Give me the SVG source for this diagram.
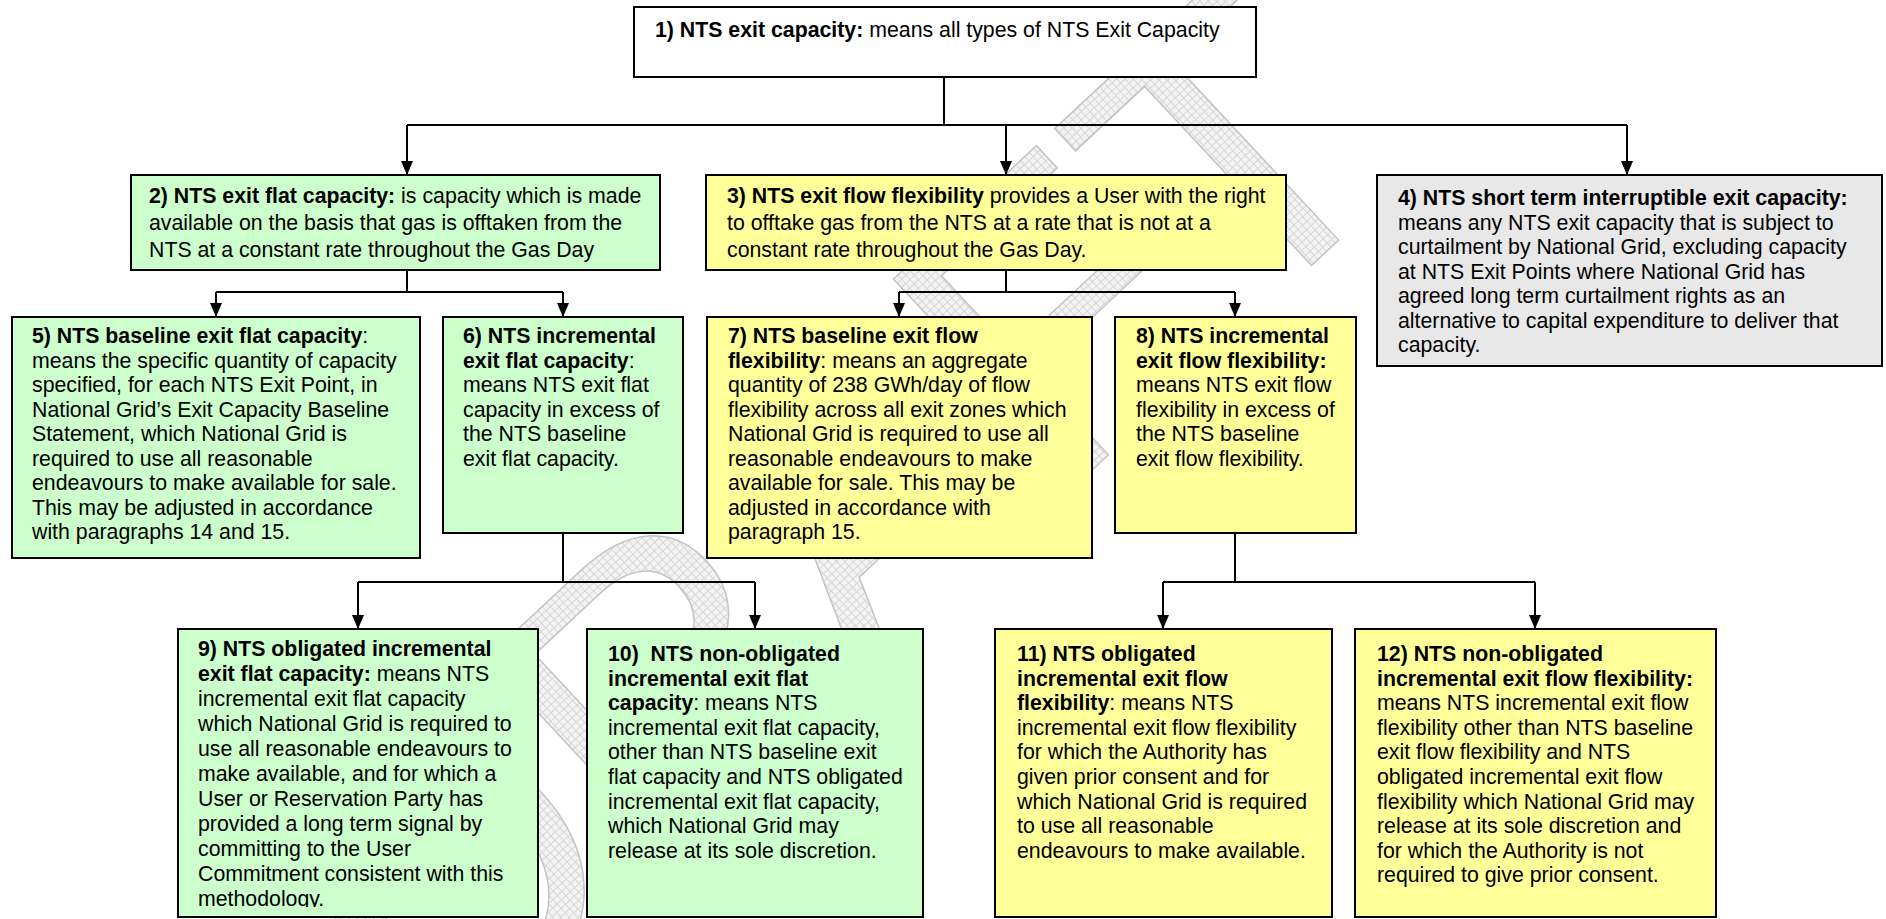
<svg xmlns="http://www.w3.org/2000/svg" width="1886" height="919" viewBox="0 0 1886 919">
<style>
text{font-family:"Liberation Sans",Arial,sans-serif;font-size:21.3px;fill:#000}
.b{font-weight:bold}
.box{stroke:#000;stroke-width:2}
.g{fill:#ccffcc}.y{fill:#ffff99}.gr{fill:#e8e8e8}.w{fill:#fff}
.c{fill:none;stroke:#000;stroke-width:2}
.wm{font-size:400px;fill:url(#wmp);stroke:#c4c4c4;stroke-width:1.5}
</style>
<defs>
<marker id="ah" markerWidth="14" markerHeight="14" refX="14" refY="6" orient="auto" markerUnits="userSpaceOnUse">
<path d="M0,0 L14,6 L0,12 z" fill="#000"/>
</marker>
<pattern id="wmp" width="6" height="6" patternUnits="userSpaceOnUse">
<rect width="6" height="6" fill="#f3f3f3"/>
<path d="M0,0.5 H6 M0.5,0 V6" stroke="#d6d6d6" stroke-width="1"/>
</pattern>
<clipPath id="clip9"><rect x="178" y="629" width="360" height="278"/></clipPath>
</defs>
<rect width="1886" height="919" fill="#fff"/>
<g id="watermark"><text class="wm" text-anchor="middle" transform="translate(927,624) rotate(-43)">DRAFT</text></g>

<g id="connectors">
<path class="c" d="M944,77 V125 M407,125 H1627 M407,270 V292 M216,292 H563 M1006,270 V292 M899,292 H1235 M563,533 V582 M358,582 H755 M1235,533 V582 M1163,582 H1535"/>
<path class="c" marker-end="url(#ah)" d="M407,125 V175"/>
<path class="c" marker-end="url(#ah)" d="M1006,125 V175"/>
<path class="c" marker-end="url(#ah)" d="M1627,125 V175"/>
<path class="c" marker-end="url(#ah)" d="M216,292 V317"/>
<path class="c" marker-end="url(#ah)" d="M563,292 V317"/>
<path class="c" marker-end="url(#ah)" d="M899,292 V317"/>
<path class="c" marker-end="url(#ah)" d="M1235,292 V317"/>
<path class="c" marker-end="url(#ah)" d="M358,582 V629"/>
<path class="c" marker-end="url(#ah)" d="M755,582 V629"/>
<path class="c" marker-end="url(#ah)" d="M1163,582 V629"/>
<path class="c" marker-end="url(#ah)" d="M1535,582 V629"/>
</g>

<g id="node1">
<rect class="box w" x="634" y="7" width="622" height="70"/>
<text x="655" y="37"><tspan class="b">1) NTS exit capacity:</tspan> means all types of NTS Exit Capacity</text>
</g>

<g id="node2">
<rect class="box g" x="131" y="175" width="529" height="95"/>
<text x="149" y="203"><tspan class="b">2) NTS exit flat capacity:</tspan> is capacity which is made</text>
<text x="149" y="230">available on the basis that gas is offtaken from the</text>
<text x="149" y="257">NTS at a constant rate throughout the Gas Day</text>
</g>

<g id="node3">
<rect class="box y" x="706" y="175" width="580" height="95"/>
<text x="727" y="203"><tspan class="b">3) NTS exit flow flexibility</tspan> provides a User with the right</text>
<text x="727" y="230">to offtake gas from the NTS at a rate that is not at a</text>
<text x="727" y="257">constant rate throughout the Gas Day.</text>
</g>

<g id="node4">
<rect class="box gr" x="1377" y="175" width="505" height="191"/>
<text x="1398" y="205" class="b">4) NTS short term interruptible exit capacity:</text>
<text x="1398" y="229.5">means any NTS exit capacity that is subject to</text>
<text x="1398" y="254">curtailment by National Grid, excluding capacity</text>
<text x="1398" y="278.5">at NTS Exit Points where National Grid has</text>
<text x="1398" y="303">agreed long term curtailment rights as an</text>
<text x="1398" y="327.5">alternative to capital expenditure to deliver that</text>
<text x="1398" y="352">capacity.</text>
</g>

<g id="node5">
<rect class="box g" x="12" y="317" width="408" height="241"/>
<text x="32" y="343"><tspan class="b">5) NTS baseline exit flat capacity</tspan>:</text>
<text x="32" y="367.5">means the specific quantity of capacity</text>
<text x="32" y="392">specified, for each NTS Exit Point, in</text>
<text x="32" y="416.5">National Grid’s Exit Capacity Baseline</text>
<text x="32" y="441">Statement, which National Grid is</text>
<text x="32" y="465.5">required to use all reasonable</text>
<text x="32" y="490">endeavours to make available for sale.</text>
<text x="32" y="514.5">This may be adjusted in accordance</text>
<text x="32" y="539">with paragraphs 14 and 15.</text>
</g>

<g id="node6">
<rect class="box g" x="443" y="317" width="240" height="216"/>
<text x="463" y="343" class="b">6) NTS incremental</text>
<text x="463" y="367.5"><tspan class="b">exit flat capacity</tspan>:</text>
<text x="463" y="392">means NTS exit flat</text>
<text x="463" y="416.5">capacity in excess of</text>
<text x="463" y="441">the NTS baseline</text>
<text x="463" y="465.5">exit flat capacity.</text>
</g>

<g id="node7">
<rect class="box y" x="707" y="317" width="385" height="241"/>
<text x="728" y="343" class="b">7) NTS baseline exit flow</text>
<text x="728" y="367.5"><tspan class="b">flexibility</tspan>: means an aggregate</text>
<text x="728" y="392">quantity of 238 GWh/day of flow</text>
<text x="728" y="416.5">flexibility across all exit zones which</text>
<text x="728" y="441">National Grid is required to use all</text>
<text x="728" y="465.5">reasonable endeavours to make</text>
<text x="728" y="490">available for sale. This may be</text>
<text x="728" y="514.5">adjusted in accordance with</text>
<text x="728" y="539">paragraph 15.</text>
</g>

<g id="node8">
<rect class="box y" x="1115" y="317" width="241" height="216"/>
<text x="1136" y="343" class="b">8) NTS incremental</text>
<text x="1136" y="367.5" class="b">exit flow flexibility:</text>
<text x="1136" y="392">means NTS exit flow</text>
<text x="1136" y="416.5">flexibility in excess of</text>
<text x="1136" y="441">the NTS baseline</text>
<text x="1136" y="465.5">exit flow flexibility.</text>
</g>

<g id="node9">
<rect class="box g" x="178" y="629" width="360" height="288"/>
<g clip-path="url(#clip9)">
<text x="198" y="656" class="b">9) NTS obligated incremental</text>
<text x="198" y="681"><tspan class="b">exit flat capacity:</tspan> means NTS</text>
<text x="198" y="706">incremental exit flat capacity</text>
<text x="198" y="731">which National Grid is required to</text>
<text x="198" y="756">use all reasonable endeavours to</text>
<text x="198" y="781">make available, and for which a</text>
<text x="198" y="806">User or Reservation Party has</text>
<text x="198" y="831">provided a long term signal by</text>
<text x="198" y="856">committing to the User</text>
<text x="198" y="881">Commitment consistent with this</text>
<text x="198" y="906">methodology.</text>
</g>
</g>

<g id="node10">
<rect class="box g" x="587" y="629" width="336" height="288"/>
<text x="608" y="661" class="b" xml:space="preserve">10)  NTS non-obligated</text>
<text x="608" y="685.6" class="b">incremental exit flat</text>
<text x="608" y="710.2"><tspan class="b">capacity</tspan>: means NTS</text>
<text x="608" y="734.8">incremental exit flat capacity,</text>
<text x="608" y="759.4">other than NTS baseline exit</text>
<text x="608" y="784">flat capacity and NTS obligated</text>
<text x="608" y="808.6">incremental exit flat capacity,</text>
<text x="608" y="833.2">which National Grid may</text>
<text x="608" y="857.8">release at its sole discretion.</text>
</g>

<g id="node11">
<rect class="box y" x="995" y="629" width="337" height="288"/>
<text x="1017" y="661" class="b">11) NTS obligated</text>
<text x="1017" y="685.6" class="b">incremental exit flow</text>
<text x="1017" y="710.2"><tspan class="b">flexibility</tspan>: means NTS</text>
<text x="1017" y="734.8">incremental exit flow flexibility</text>
<text x="1017" y="759.4">for which the Authority has</text>
<text x="1017" y="784">given prior consent and for</text>
<text x="1017" y="808.6">which National Grid is required</text>
<text x="1017" y="833.2">to use all reasonable</text>
<text x="1017" y="857.8">endeavours to make available.</text>
</g>

<g id="node12">
<rect class="box y" x="1355" y="629" width="361" height="288"/>
<text x="1377" y="661" class="b">12) NTS non-obligated</text>
<text x="1377" y="685.6" class="b">incremental exit flow flexibility:</text>
<text x="1377" y="710.2">means NTS incremental exit flow</text>
<text x="1377" y="734.8">flexibility other than NTS baseline</text>
<text x="1377" y="759.4">exit flow flexibility and NTS</text>
<text x="1377" y="784">obligated incremental exit flow</text>
<text x="1377" y="808.6">flexibility which National Grid may</text>
<text x="1377" y="833.2">release at its sole discretion and</text>
<text x="1377" y="857.8">for which the Authority is not</text>
<text x="1377" y="882.4">required to give prior consent.</text>
</g>
</svg>
